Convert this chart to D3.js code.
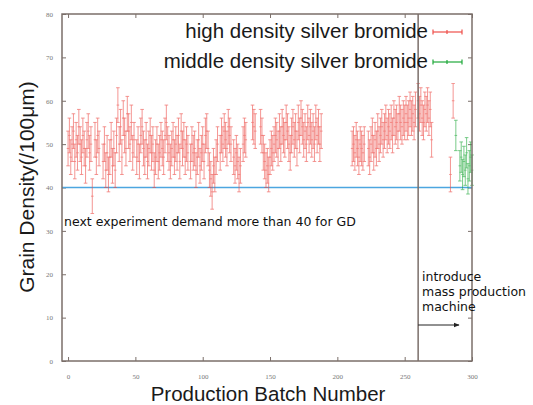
<!DOCTYPE html>
<html><head><meta charset="utf-8">
<script src="https://cdn.jsdelivr.net/npm/d3@7/dist/d3.min.js"></script>
<style>
html,body{margin:0;padding:0;background:#fff;}
svg{display:block;}
</style></head>
<body>
<svg id="c" width="533" height="405"></svg>
<script>
// ---- data ----
const xTicks = [0, 50, 100, 150, 200, 250, 300];
const yTicks = [0, 10, 20, 30, 40, 50, 60, 70, 80];

const highBatch = [0,1,2,3,4,5,6,7,8,9,10,11,12,13,14,15,16,17,18,20,21,22,23,
 26,27,28,29,30,31,32,33,34,35,36,37,38,39,40,41,42,43,44,45,46,47,48,49,
 51,52,53,54,55,56,57,58,59,60,61,62,63,64,65,66,67,68,69,70,71,72,73,74,75,76,77,78,79,80,81,82,83,84,85,86,87,88,89,
 91,92,93,94,95,96,97,98,99,100,101,102,103,104,105,106,107,108,109,110,111,
 113,114,115,116,117,118,119,120,121,123,124,125,126,127,128,130,131,132,137,138,139,
 143,144,145,146,147,148,149,150,151,152,153,154,155,156,157,158,159,160,161,162,163,164,165,166,167,168,169,170,171,172,173,174,175,176,177,178,179,180,181,182,183,184,185,186,187,188,
 211,212,213,214,215,216,217,218,219,220,
 223,224,225,226,227,228,229,230,231,232,233,234,235,236,237,238,239,240,241,242,243,244,245,246,247,248,249,250,251,252,253,254,255,256,257,258,
 260,261,262,263,264,265,266,267,268,269,270,284,286];
const highGD = [49,52,47,50,53,46,51,48,54,50,47,52,49,45,51,53,48,50,38,51,47,52,49,
 46,50,44,48,43,47,51,45,49,44,52,59,50,54,47,56,52,49,57,53,50,55,48,51,
 47,50,46,52,54,49,47,51,46,49,52,48,50,44,47,50,46,48,51,49,47,52,55,50,48,46,49,51,47,50,48,52,46,53,49,51,47,50,48,
 46,50,48,49,44,47,51,45,48,50,46,52,53,49,44,42,39,45,43,47,50,
 48,52,50,53,51,49,54,52,50,47,45,48,46,43,45,50,52,51,55,54,53,
 54,52,48,46,44,45,43,47,49,48,50,52,51,49,53,50,54,52,51,55,53,50,48,52,54,51,53,49,55,52,56,54,51,53,50,55,52,54,51,53,50,55,52,54,50,53,
 49,50,48,51,49,47,50,49,48,50,
 49,47,50,52,48,51,49,53,50,52,54,51,53,55,52,54,53,55,52,56,54,55,53,57,55,54,56,55,57,55,56,58,56,57,55,58,
 60,57,59,56,55,58,57,59,56,58,51,43,60];
const highErr = 4;

const midBatch = [288,291,292,293,294,295,296,297,298,299,300];
const midGD = [52,45,47,43,46,44,48,42,45,47,44];
const midErr = 3.5;

const demandLevel = 40;
const machineBatch = 260;

// ---- layout ----
const svg = d3.select("#c");
const L = 62, R = 472, T = 14, B = 361;
const x = d3.scaleLinear().domain([-4.5, 300]).range([L, R]);
const y = d3.scaleLinear().domain([0, 80]).range([B, T]);
const frame = "#7b6f6a";
const red = "#ee4f4a", green = "#1fa83a";

// axes (inward ticks, mirrored)
const tickStyle = g => {
  g.select(".domain").remove();
  g.selectAll(".tick line").attr("stroke", frame);
  g.selectAll(".tick text").attr("fill", "#777").attr("font-family", "Liberation Serif, serif").attr("font-size", 7);
};
svg.append("g").attr("transform", `translate(0,${B})`)
  .call(d3.axisBottom(x).tickValues(xTicks).tickSize(-4).tickPadding(13)).call(tickStyle);
svg.append("g").attr("transform", `translate(0,${T})`)
  .call(d3.axisTop(x).tickValues(xTicks).tickSize(-4).tickFormat("")).call(tickStyle);
svg.append("g").attr("transform", `translate(${L},0)`)
  .call(d3.axisLeft(y).tickValues(yTicks).tickSize(-4).tickPadding(9)).call(tickStyle);
svg.append("g").attr("transform", `translate(${R},0)`)
  .call(d3.axisRight(y).tickValues(yTicks).tickSize(-4).tickFormat("")).call(tickStyle);

// demand line
svg.append("line").attr("x1", L).attr("x2", R).attr("y1", y(demandLevel)).attr("y2", y(demandLevel))
  .attr("stroke", "#4da6e0").attr("stroke-width", 1.6);

// error bars
function drawSeries(bx, vals, err, color) {
  const g = svg.append("g").attr("stroke", color).attr("stroke-width", 0.8).attr("opacity", 0.75);
  bx.forEach((b, i) => {
    const cx = x(b), v = vals[i];
    g.append("line").attr("x1", cx).attr("x2", cx).attr("y1", y(v - err)).attr("y2", y(v + err));
    g.append("line").attr("x1", cx - 1.8).attr("x2", cx + 1.8).attr("y1", y(v - err)).attr("y2", y(v - err));
    g.append("line").attr("x1", cx - 1.8).attr("x2", cx + 1.8).attr("y1", y(v + err)).attr("y2", y(v + err));
    g.append("line").attr("x1", cx - 1.3).attr("x2", cx + 1.3).attr("y1", y(v)).attr("y2", y(v));
  });
}
drawSeries(highBatch, highGD, highErr, red);
drawSeries(midBatch, midGD, midErr, green);

// frame
svg.append("rect").attr("x", L).attr("y", T).attr("width", R - L).attr("height", B - T)
  .attr("fill", "none").attr("stroke", frame).attr("stroke-width", 1.5);
// machine line
svg.append("line").attr("x1", x(machineBatch)).attr("x2", x(machineBatch)).attr("y1", T).attr("y2", B)
  .attr("stroke", frame).attr("stroke-width", 1.5);

// legend
const leg = [["high density silver bromide", red, 38], ["middle density silver bromide", green, 68]];
leg.forEach(([t, c, by]) => {
  svg.append("text").attr("x", 428).attr("y", by).attr("text-anchor", "end")
    .attr("font-family", "Liberation Sans, Arial, sans-serif").attr("font-size", 20.5).attr("fill", "#1a1a1a").text(t);
  const ly = by - 6;
  const g = svg.append("g").attr("stroke", c).attr("stroke-width", 1.2);
  g.append("line").attr("x1", 433).attr("x2", 462).attr("y1", ly).attr("y2", ly);
  [433, 462].forEach(px => g.append("line").attr("x1", px).attr("x2", px).attr("y1", ly - 2.5).attr("y2", ly + 2.5));
  g.append("line").attr("x1", 447).attr("x2", 447).attr("y1", ly - 2).attr("y2", ly + 2);
});

// annotations
const annFont = "DejaVu Sans, sans-serif";
svg.append("text").attr("x", 64).attr("y", 226).attr("font-family", annFont).attr("font-size", 12.5)
  .attr("fill", "#111").text("next experiment demand more than 40 for GD");
["introduce", "mass production", "machine"].forEach((t, i) => {
  svg.append("text").attr("x", 422).attr("y", 281 + i * 15).attr("font-family", annFont).attr("font-size", 12.5)
    .attr("fill", "#111").text(t);
});
svg.append("defs").append("marker").attr("id", "ah").attr("viewBox", "0 0 10 10").attr("refX", 9).attr("refY", 5)
  .attr("markerWidth", 6).attr("markerHeight", 6).attr("orient", "auto")
  .append("path").attr("d", "M0,1L10,5L0,9Z").attr("fill", "#222");
svg.append("line").attr("x1", x(machineBatch)).attr("x2", 459).attr("y1", 325).attr("y2", 325)
  .attr("stroke", "#222").attr("stroke-width", 1).attr("marker-end", "url(#ah)");

// axis titles
svg.append("text").attr("x", 268).attr("y", 401).attr("text-anchor", "middle")
  .attr("font-family", "Liberation Sans, Arial, sans-serif").attr("font-size", 20.5).attr("fill", "#1a1a1a")
  .text("Production Batch Number");
svg.append("text").attr("transform", `translate(34,187) rotate(-90)`).attr("text-anchor", "middle")
  .attr("font-family", "Liberation Sans, Arial, sans-serif").attr("font-size", 21).attr("fill", "#1a1a1a")
  .text("Grain Density(/100μm)");
</script>
</body></html>
